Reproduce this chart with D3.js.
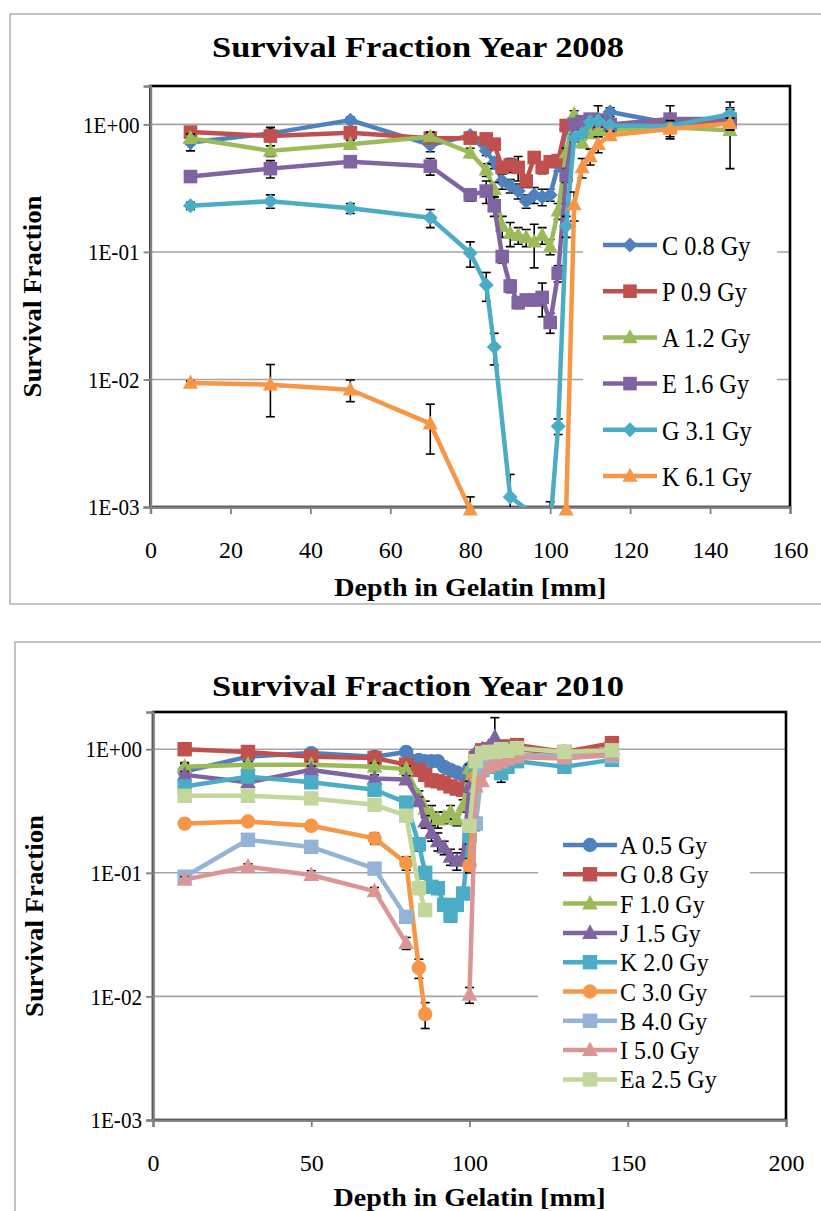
<!DOCTYPE html>
<html>
<head>
<meta charset="utf-8">
<script src="https://cdn.jsdelivr.net/npm/d3@7"></script>
<style>
  body { margin: 0; background: #fff; }
  svg { display: block; }
  text { font-family: "Liberation Serif", "DejaVu Serif", serif; fill: #000; }
</style>
</head>
<body>
<svg id="fig" width="821" height="1211"></svg>
<script>
// ---------- 2008 measurements ----------
const depth2008 = [10,30,50,70,80,84,86,88,90,92,94,96,98,100,102,104,106,108,110,112,115,130,145];
const depthG2008 = [10,30,50,70,80,84,86,90,100,102,104,106,108,110,112,115,130,145];

const sfC08 = [0.72,0.85,1.08,0.69,0.82,0.62,0.5,0.36,0.33,0.3,0.25,0.28,0.27,0.28,0.48,0.92,1.0,1.02,1.05,1.1,1.25,1.02,1.1];
const errC08 = [0.1,0.1,0.06,0.08,0.05,0.05,0.05,0.05,0.04,0.04,0.03,0.04,0.04,0.03,0.05,null,null,0.1,0.1,0.3,0.1,0.1,0.2];

const sfP09 = [0.87,0.81,0.86,0.78,0.78,0.77,0.7,0.46,0.48,0.46,0.36,0.55,0.46,0.51,0.52,0.98,1.0,1.0,1.0,0.98,0.97,1.0,1.05];
const errP09 = [0.05,0.13,0.05,0.06,0.05,0.05,0.05,0.05,0.06,0.1,0.04,0.05,0.05,0.04,0.04,0.05,0.05,0.05,0.05,0.05,0.05,0.08,0.08];

const sfA12 = [0.78,0.62,0.7,0.8,0.6,0.44,0.31,0.16,0.14,0.135,0.13,0.12,0.135,0.11,0.21,0.6,1.2,0.72,0.85,0.9,0.9,0.95,0.9];
const errA12 = [0.06,0.06,0.05,0.07,0.05,0.05,0.04,0.03,0.03,0.02,0.02,0.045,0.02,0.015,0.03,0.05,0.08,0.06,0.05,0.05,0.05,0.08,0.45];

const sfE16 = [0.39,0.45,0.51,0.47,0.28,0.3,0.23,0.092,0.054,0.04,0.042,0.042,0.044,0.028,0.068,0.4,1.0,1.05,1.1,1.08,1.0,1.1,1.1];
const errE16 = [0.03,0.07,0.04,0.07,0.03,0.06,0.04,0.01,0.006,0.004,0.004,0.004,0.013,0.005,0.01,0.05,0.05,0.1,0.1,0.1,0.05,0.3,0.1];

const sfG31 = [0.23,0.25,0.22,0.185,0.098,0.055,0.018,0.0012,0.0007,0.0043,0.16,0.78,0.85,1.05,1.07,0.98,0.97,1.2];
const errG31 = [0.015,0.03,0.02,0.03,0.022,0.014,0.005,0.0006,0.0004,0.0006,0.03,0.05,0.05,0.06,0.06,0.05,0.05,0.3];

const sfK61 = [0.0094,0.0091,0.0083,0.0045,0.00095,null,null,null,null,null,null,null,null,null,null,0.00095,0.235,0.46,0.56,0.7,0.82,0.92,1.02];
const errK61 = [0.0003,0.004,0.0016,0.0019,0.00025,null,null,null,null,null,null,null,null,null,null,null,0.06,0.08,0.08,0.1,0.06,0.15,0.1];

// ---------- 2010 measurements ----------
const depth2010 = [10,30,50,70,80,84,86,88,90,92,94,96,98,100,102,104,106,108,110,112,115,130,145];

const sfA05 = [0.66,0.87,0.93,0.87,0.95,0.82,0.8,0.8,0.8,0.72,0.68,0.65,0.62,0.7,0.9,0.95,0.97,1.0,1.0,0.98,1.0,0.95,0.98];
const errA05 = [0.12,0.04,0.05,0.04,0.05,0.04,0.05,0.04,0.05,0.06,0.05,0.05,0.06,0.05,null,null,null,null,null,null,0.05,null,null];

const sfG08 = [1.0,0.95,0.87,0.85,0.75,0.68,0.62,0.56,0.55,0.53,0.5,0.48,0.47,0.5,0.85,0.98,1.0,1.02,1.05,1.05,1.08,0.95,1.12];
const errG08 = [0.04,0.05,0.04,0.05,0.04,0.04,0.05,0.04,0.04,0.05,0.04,0.04,0.04,0.05,null,null,null,null,0.06,null,0.05,null,0.06];

const sfF10 = [0.72,0.75,0.75,0.72,0.69,0.42,0.33,0.3,0.27,0.28,0.31,0.27,0.35,0.7,0.9,0.95,1.0,1.0,1.0,1.0,1.02,0.95,1.0];
const errF10 = [0.04,0.04,0.04,0.05,0.04,0.04,0.05,0.05,0.04,0.03,0.04,0.03,0.04,0.05,null,null,null,null,null,null,null,null,null];

const sfJ15 = [0.62,0.54,0.68,0.58,0.57,0.38,0.26,0.21,0.18,0.16,0.135,0.125,0.135,0.5,0.95,1.0,1.05,1.25,1.0,1.0,1.0,0.93,1.0];
const errJ15 = [0.04,0.04,0.05,0.04,0.04,0.03,0.03,0.03,0.03,0.02,0.02,0.02,0.02,0.05,null,null,null,0.55,null,null,null,null,null];

const sfK20 = [0.5,0.6,0.54,0.47,0.37,0.17,0.1,0.077,0.075,0.055,0.045,0.055,0.068,0.2,0.65,0.68,0.75,0.72,0.64,0.72,0.8,0.72,0.82];
const errK20 = [0.03,0.04,0.03,0.03,0.03,0.02,0.01,0.008,0.008,0.006,0.005,0.006,0.007,0.03,null,null,null,null,0.1,null,null,null,null];

const sfC30 = [0.25,0.26,0.24,0.19,0.12,0.017,0.0072,null,null,null,null,null,null,0.115,0.6,0.72,0.8,0.82,0.85,0.88,0.9,0.88,0.9];
const errC30 = [0.01,0.01,0.01,0.02,0.015,0.003,0.0017,null,null,null,null,null,null,0.015,null,null,null,null,null,null,null,null,null];

const sfB40 = [0.093,0.185,0.162,0.108,0.044,null,null,null,null,null,null,null,null,null,0.25,0.7,0.78,0.8,0.82,0.85,0.88,0.88,0.88];
const errB40 = [0.005,0.01,0.01,0.008,0.004,null,null,null,null,null,null,null,null,null,0.03,null,null,null,null,null,null,null,null];

const sfI50 = [0.088,0.112,0.096,0.071,0.027,null,null,null,null,null,null,null,null,0.0103,0.5,0.55,0.72,0.75,0.78,0.82,0.86,0.84,0.9];
const errI50 = [0.005,0.006,0.008,0.005,0.003,null,null,null,null,null,null,null,null,0.0015,null,null,null,null,null,null,null,null,null];

const sfEa25 = [0.42,0.42,0.4,0.355,0.29,0.075,0.05,null,null,null,null,null,null,0.24,0.8,0.93,0.95,0.95,1.0,0.97,1.02,0.95,0.98];
const errEa25 = [0.02,0.02,0.02,0.02,0.02,0.006,0.004,null,null,null,null,null,null,0.02,null,null,null,null,null,null,null,null,null];

// ---------- axis ticks / labels ----------
const yTickValues = [1e-3, 1e-2, 1e-1, 1];
const yTickLabels = ["1E-03", "1E-02", "1E-01", "1E+00"];
const xTicks2008 = [0,20,40,60,80,100,120,140,160];
const xTicks2010 = [0,50,100,150,200];

const series2008 = [
  { name: "C 0.8 Gy", color: "#4F81BD", shape: "diamond", depth: depth2008, sf: sfC08, err: errC08 },
  { name: "P 0.9 Gy", color: "#C0504D", shape: "square", depth: depth2008, sf: sfP09, err: errP09 },
  { name: "A 1.2 Gy", color: "#9BBB59", shape: "triangle", depth: depth2008, sf: sfA12, err: errA12 },
  { name: "E 1.6 Gy", color: "#8064A2", shape: "square", depth: depth2008, sf: sfE16, err: errE16 },
  { name: "G 3.1 Gy", color: "#4BACC6", shape: "diamond", depth: depthG2008, sf: sfG31, err: errG31 },
  { name: "K 6.1 Gy", color: "#F79646", shape: "triangle", depth: depth2008, sf: sfK61, err: errK61 }
];

const series2010 = [
  { name: "A 0.5 Gy", color: "#4F81BD", shape: "circle", depth: depth2010, sf: sfA05, err: errA05 },
  { name: "G 0.8 Gy", color: "#C0504D", shape: "square", depth: depth2010, sf: sfG08, err: errG08 },
  { name: "F 1.0 Gy", color: "#9BBB59", shape: "triangle", depth: depth2010, sf: sfF10, err: errF10 },
  { name: "J 1.5 Gy", color: "#8064A2", shape: "triangle", depth: depth2010, sf: sfJ15, err: errJ15 },
  { name: "K 2.0 Gy", color: "#4BACC6", shape: "square", depth: depth2010, sf: sfK20, err: errK20 },
  { name: "C 3.0 Gy", color: "#F79646", shape: "circle", depth: depth2010, sf: sfC30, err: errC30 },
  { name: "B 4.0 Gy", color: "#95B3D7", shape: "square", depth: depth2010, sf: sfB40, err: errB40 },
  { name: "I 5.0 Gy", color: "#D99694", shape: "triangle", depth: depth2010, sf: sfI50, err: errI50 },
  { name: "Ea 2.5 Gy", color: "#C3D69B", shape: "square", depth: depth2010, sf: sfEa25, err: errEa25 }
];

// ---------- marker shapes ----------
function markerPath(shape, s) {
  switch (shape) {
    case "diamond": return `M0,${-s}L${s},0L0,${s}L${-s},0Z`;
    case "square": return `M${-s},${-s}h${2*s}v${2*s}h${-2*s}Z`;
    case "triangle": return `M0,${-s*1.15}L${s*1.05},${s*0.8}L${-s*1.05},${s*0.8}Z`;
    default: return `M${s},0A${s},${s} 0 1,1 ${-s},0A${s},${s} 0 1,1 ${s},0Z`;
  }
}

const svg = d3.select("#fig");

function fitText(sel, width) {
  sel.attr("textLength", width).attr("lengthAdjust", "spacingAndGlyphs");
}
// narrow the glyphs of a text by a factor, keeping its anchor
function condense(sel, k) {
  sel.each(function () {
    const w = this.getComputedTextLength();
    d3.select(this).attr("textLength", w * k).attr("lengthAdjust", "spacingAndGlyphs");
  });
}

function drawChart(cfg, id) {
  const g = svg.append("g");
  const p = cfg.plot;

  // chart area frame
  g.append("rect")
    .attr("x", cfg.frame.x).attr("y", cfg.frame.y)
    .attr("width", cfg.frame.w).attr("height", cfg.frame.h)
    .attr("fill", "#fff").attr("stroke", "#b4b4b4").attr("stroke-width", 1.6);

  const x = d3.scaleLinear().domain([0, cfg.xMax]).range([p.l, p.r]);
  const y = d3.scaleLog().domain([1e-3, 2]).range([p.b, p.t]);

  // gridlines
  g.append("g").selectAll("line").data(yTickValues).join("line")
    .attr("x1", p.l).attr("x2", p.r)
    .attr("y1", d => y(d)).attr("y2", d => y(d))
    .attr("stroke", "#a5a5a5").attr("stroke-width", 1.6);

  // plot area border
  g.append("rect")
    .attr("x", p.l).attr("y", p.t).attr("width", p.r - p.l).attr("height", p.b - p.t)
    .attr("fill", "none").attr("stroke", "#000").attr("stroke-width", 2.6);

  // y axis
  const yAxis = g.append("g").attr("transform", `translate(${p.l},0)`)
    .call(d3.axisLeft(y).tickValues(yTickValues)
      .tickFormat((d, i) => yTickLabels[i]).tickSize(7).tickPadding(4));
  yAxis.attr("font-family", null);
  yAxis.select(".domain").attr("stroke", "#808080").attr("stroke-width", 2.4);
  yAxis.selectAll(".tick line").attr("stroke", "#808080").attr("stroke-width", 1.8);
  yAxis.selectAll(".tick text")
    .attr("font-family", "Liberation Serif").attr("font-size", cfg.tickFont).attr("fill", "#000")
    .call(condense, 0.88);

  // x axis
  const xAxis = g.append("g").attr("transform", `translate(0,${p.b})`)
    .call(d3.axisBottom(x).tickValues(cfg.xTicks).tickFormat(d3.format("d")).tickSize(7).tickPadding(4));
  xAxis.attr("font-family", null);
  xAxis.select(".domain").attr("stroke", "#808080").attr("stroke-width", 2.4);
  xAxis.selectAll(".tick line").attr("stroke", "#808080").attr("stroke-width", 1.8);
  xAxis.selectAll(".tick text")
    .attr("font-family", "Liberation Serif").attr("font-size", cfg.tickFont).attr("fill", "#000")
    .attr("y", cfg.xLabelDy).attr("dy", 0);

  // clip region for lines and error bars
  g.append("clipPath").attr("id", id).append("rect")
    .attr("x", p.l).attr("y", p.t).attr("width", p.r - p.l).attr("height", p.b - p.t);

  const line = d3.line()
    .defined(d => d.v != null)
    .x(d => x(d.x)).y(d => y(d.v));

  cfg.series.forEach(s => {
    const pts = s.depth.map((dx, i) => ({ x: dx, v: s.sf[i], e: s.err[i] }));
    const sg = g.append("g");

    // error bars
    const eb = sg.append("g").attr("clip-path", `url(#${id})`)
      .attr("stroke", "#000").attr("stroke-width", 1.6);
    pts.filter(d => d.v != null && d.e != null).forEach(d => {
      const lo = Math.max(d.v - d.e, 1e-4), hi = d.v + d.e;
      const cx = x(d.x);
      eb.append("line").attr("x1", cx).attr("x2", cx).attr("y1", y(lo)).attr("y2", y(hi));
      eb.append("line").attr("x1", cx - cfg.cap).attr("x2", cx + cfg.cap).attr("y1", y(hi)).attr("y2", y(hi));
      eb.append("line").attr("x1", cx - cfg.cap).attr("x2", cx + cfg.cap).attr("y1", y(lo)).attr("y2", y(lo));
    });

    // connecting line
    sg.append("path").datum(pts)
      .attr("clip-path", `url(#${id})`)
      .attr("fill", "none").attr("stroke", s.color)
      .attr("stroke-width", cfg.lineWidth).attr("stroke-linejoin", "round")
      .attr("d", line);

    // markers
    sg.selectAll("path.mk").data(pts.filter(d => d.v != null && y(d.v) <= p.b + 5)).join("path")
      .attr("class", "mk")
      .attr("transform", d => `translate(${x(d.x)},${y(d.v)})`)
      .attr("d", markerPath(s.shape, cfg.markerSize[s.shape]))
      .attr("fill", s.color);
  });

  // legend
  const L = cfg.legend;
  const lg = g.append("g");
  lg.append("rect").attr("x", L.x).attr("y", L.y).attr("width", L.w).attr("height", L.h).attr("fill", "#fff");
  cfg.series.forEach((s, i) => {
    const ry = L.row0 + i * L.dy;
    lg.append("line").attr("x1", L.lx1).attr("x2", L.lx2).attr("y1", ry).attr("y2", ry)
      .attr("stroke", s.color).attr("stroke-width", cfg.lineWidth);
    lg.append("path").attr("transform", `translate(${(L.lx1 + L.lx2) / 2},${ry})`)
      .attr("d", markerPath(s.shape, cfg.markerSize[s.shape])).attr("fill", s.color);
    lg.append("text").attr("x", L.tx).attr("y", ry).attr("dy", "0.36em")
      .attr("font-size", L.font).text(s.name).call(condense, L.squeeze);
  });

  // titles
  g.append("text").attr("x", cfg.title.x).attr("y", cfg.title.y)
    .attr("text-anchor", "middle").attr("font-weight", "bold").attr("font-size", 30)
    .text(cfg.title.text).call(fitText, cfg.title.len);

  g.append("text").attr("x", (p.l + p.r) / 2).attr("y", cfg.xTitleY)
    .attr("text-anchor", "middle").attr("font-weight", "bold").attr("font-size", 25)
    .text("Depth in Gelatin [mm]").call(fitText, 272);

  g.append("text")
    .attr("transform", `translate(${cfg.yTitleX},${(p.t + p.b) / 2}) rotate(-90)`)
    .attr("text-anchor", "middle").attr("font-weight", "bold").attr("font-size", 25)
    .text("Survival Fraction").call(fitText, 202);
}

drawChart({
  frame: { x: 10, y: 14, w: 830, h: 590 },
  title: { x: 418, y: 57, text: "Survival Fraction Year 2008", len: 412 },
  plot: { l: 150.5, r: 790, t: 86, b: 507 },
  xMax: 160, xTicks: xTicks2008, xLabelDy: 51,
  tickFont: 24, lineWidth: 4.5, cap: 4.5,
  markerSize: { diamond: 7.5, square: 6.8, triangle: 7.2, circle: 6.5 },
  xTitleY: 596, yTitleX: 41,
  legend: { x: 583, y: 218, w: 194, h: 284, row0: 245, dy: 46.2, lx1: 603, lx2: 657, tx: 662, font: 27, squeeze: 0.9 },
  series: series2008
}, "clip2008");

drawChart({
  frame: { x: 15, y: 642, w: 830, h: 600 },
  title: { x: 418, y: 696, text: "Survival Fraction Year 2010", len: 412 },
  plot: { l: 153, r: 786, t: 712, b: 1120 },
  xMax: 200, xTicks: xTicks2010, xLabelDy: 51,
  tickFont: 24, lineWidth: 4.5, cap: 4.5,
  markerSize: { diamond: 7.5, square: 7.2, triangle: 7.5, circle: 7.2 },
  xTitleY: 1206, yTitleX: 43,
  legend: { x: 538, y: 829, w: 212, h: 266, row0: 845, dy: 29.3, lx1: 563, lx2: 617, tx: 620, font: 25, squeeze: 0.96 },
  series: series2010
}, "clip2010");
</script>
</body>
</html>
